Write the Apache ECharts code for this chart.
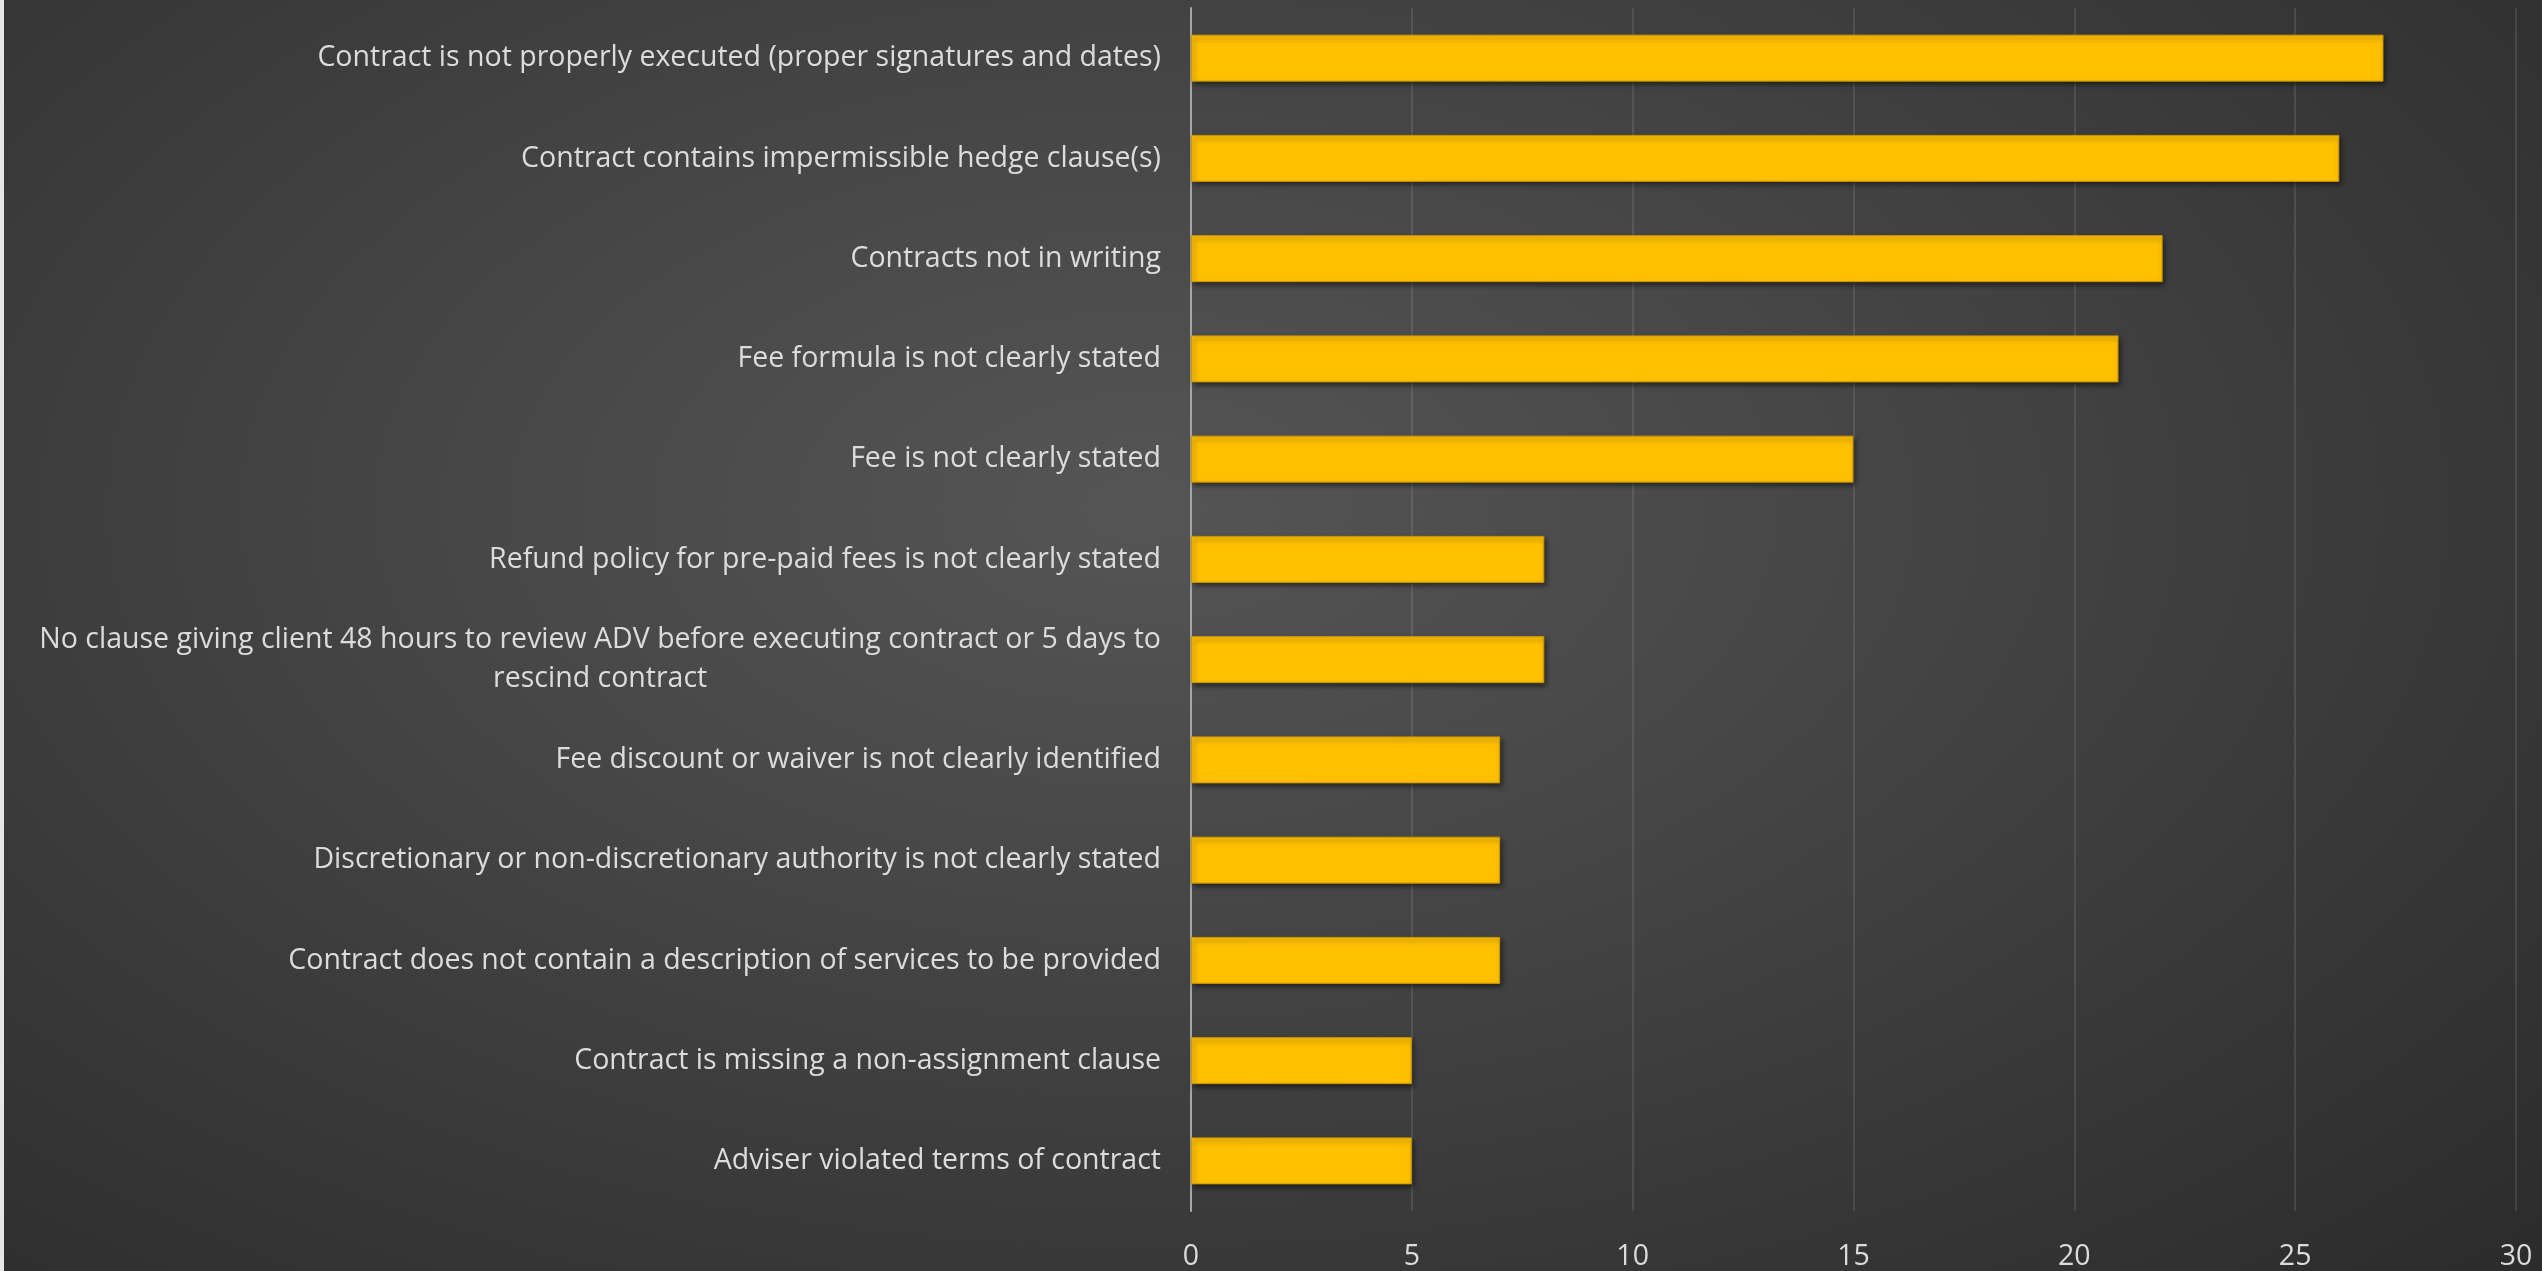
<!DOCTYPE html>
<html>
<head>
<meta charset="utf-8">
<script src="https://cdn.jsdelivr.net/npm/echarts@6/dist/echarts.min.js"></script>
<style>
html, body { margin: 0; padding: 0; }
#chart {
  width: 2542px; height: 1271px;
  background: radial-gradient(ellipse 75% 85% at 45% 40%, #555555 0%, #474747 35%, #383838 70%, #2c2c2c 100%);
}
</style>
</head>
<body>
<div id="chart"></div>
<script>
const categories = [
  "Contract is not properly executed (proper signatures and dates)",
  "Contract contains impermissible hedge clause(s)",
  "Contracts not in writing",
  "Fee formula is not clearly stated",
  "Fee is not clearly stated",
  "Refund policy for pre-paid fees is not clearly stated",
  "No clause giving client 48 hours to review ADV before executing contract or 5 days to\nrescind contract",
  "Fee discount or waiver is not clearly identified",
  "Discretionary or non-discretionary authority is not clearly stated",
  "Contract does not contain a description of services to be provided",
  "Contract is missing a non-assignment clause",
  "Adviser violated terms of contract"
];
const values = [27, 26, 22, 21, 15, 8, 8, 7, 7, 7, 5, 5];
const xTicks = [0, 5, 10, 15, 20, 25, 30];

const chart = echarts.init(document.getElementById('chart'), null, { renderer: 'canvas' });
const FONT = '"Open Sans", "Noto Sans", sans-serif';
const FS = 28.5;
chart.setOption({
  backgroundColor: 'transparent',
  animation: false,
  graphic: [{
    type: 'rect', left: 0, top: 0,
    shape: { width: 4, height: 1271 },
    style: { fill: '#e6e6e6' }, silent: true
  }],
  grid: { left: 1191, right: 26, top: 8, bottom: 58, containLabel: false },
  xAxis: {
    type: 'value', min: xTicks[0], max: xTicks[xTicks.length - 1], interval: 5,
    axisLine: { show: false }, axisTick: { show: false },
    splitLine: { show: true, lineStyle: { color: 'rgba(255,255,255,0.1)', width: 2 } },
    axisLabel: { color: '#dcdcdc', fontSize: FS, fontFamily: FONT, margin: 31 }
  },
  yAxis: {
    type: 'category', data: categories, inverse: true,
    axisLine: { show: true, lineStyle: { color: '#a6a6a6', width: 2 } },
    axisTick: { show: false },
    axisLabel: {
      margin: 30, color: '#dcdcdc', fontSize: FS, fontFamily: FONT, lineHeight: 39,
      formatter: function (v) { return v.split('\n').map(s => '{c|' + s + '}').join('\n'); },
      rich: { c: { align: 'center', color: '#dcdcdc', fontSize: FS, fontFamily: FONT, lineHeight: 39 } }
    }
  },
  series: [{
    type: 'bar', data: values, barWidth: 47,
    itemStyle: {
      color: '#ffc000', borderColor: '#c89600', borderWidth: 1,
      shadowColor: 'rgba(0,0,0,0.55)', shadowBlur: 5, shadowOffsetX: 2, shadowOffsetY: 3
    }
  }]
});
</script>
</body>
</html>
